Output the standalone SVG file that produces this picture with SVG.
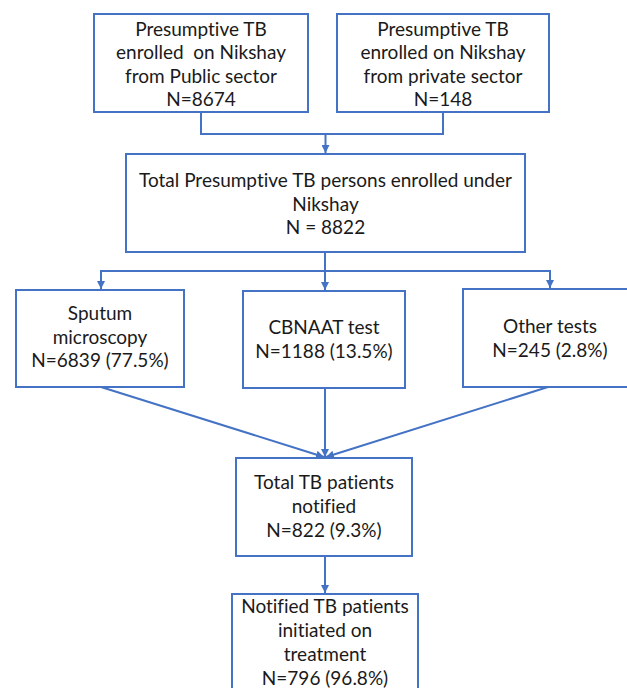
<svg xmlns="http://www.w3.org/2000/svg" width="627" height="688" viewBox="0 0 627 688">
  <style>
    .box { fill: #ffffff; stroke: #4472C4; stroke-width: 2; }
    .ln { fill: none; stroke: #4472C4; stroke-width: 2; }
    .t { font-family: Lato, "Open Sans", "Liberation Sans", sans-serif; font-size: 19px; fill: #1a1a1a; text-anchor: middle; font-variant-ligatures: none; }
  </style>
  <defs>
    <marker id="ah" viewBox="0 0 10 10" refX="10" refY="5" markerWidth="4" markerHeight="4" orient="auto" markerUnits="strokeWidth">
      <path d="M0,0 L10,5 L0,10 z" fill="#4472C4"/>
    </marker>
  </defs>
  <rect width="627" height="688" fill="#ffffff"/>
  <g id="connectors">
    <path class="ln" d="M201,112 V134 H443 V112"/>
    <path class="ln" d="M325.5,134 V153" marker-end="url(#ah)"/>
    <path class="ln" d="M325,252 V271"/>
    <path class="ln" d="M101,289 V271 H550 V289"/>
    <path class="ln" d="M101,280 V289" marker-end="url(#ah)"/>
    <path class="ln" d="M325,271 V290" marker-end="url(#ah)"/>
    <path class="ln" d="M550,280 V288" marker-end="url(#ah)"/>
    <path class="ln" d="M101,387 L324,457" marker-end="url(#ah)"/>
    <path class="ln" d="M325,388 V457" marker-end="url(#ah)"/>
    <path class="ln" d="M548,387 L326,457" marker-end="url(#ah)"/>
    <path class="ln" d="M325,556 V593" marker-end="url(#ah)"/>
  </g>
  <g id="public">
    <rect class="box" x="94" y="14" width="214" height="98"/>
    <text class="t" x="201" y="36">Presumptive TB</text>
    <text class="t" x="201" y="59" xml:space="preserve">enrolled  on Nikshay</text>
    <text class="t" x="201" y="83">from Public sector</text>
    <text class="t" x="201" y="106">N=8674</text>
  </g>
  <g id="private">
    <rect class="box" x="337" y="14" width="212" height="98"/>
    <text class="t" x="443" y="36">Presumptive TB</text>
    <text class="t" x="443" y="59">enrolled on Nikshay</text>
    <text class="t" x="443" y="83">from private sector</text>
    <text class="t" x="443" y="106">N=148</text>
  </g>
  <g id="total">
    <rect class="box" x="126" y="154" width="399" height="98"/>
    <text class="t" x="325.5" y="187">Total Presumptive TB persons enrolled under</text>
    <text class="t" x="325.5" y="211">Nikshay</text>
    <text class="t" x="325.5" y="234">N = 8822</text>
  </g>
  <g id="sputum">
    <rect class="box" x="16" y="290" width="168" height="97"/>
    <text class="t" x="100" y="320">Sputum</text>
    <text class="t" x="100" y="344">microscopy</text>
    <text class="t" x="100" y="367">N=6839 (77.5%)</text>
  </g>
  <g id="cbnaat">
    <rect class="box" x="243" y="291" width="162" height="97"/>
    <text class="t" x="324" y="334">CBNAAT test</text>
    <text class="t" x="324" y="358">N=1188 (13.5%)</text>
  </g>
  <g id="other">
    <rect class="box" x="463" y="289" width="174" height="98"/>
    <text class="t" x="550" y="333">Other tests</text>
    <text class="t" x="550" y="357">N=245 (2.8%)</text>
  </g>
  <g id="notified">
    <rect class="box" x="236" y="458" width="176" height="98"/>
    <text class="t" x="324" y="489">Total TB patients</text>
    <text class="t" x="324" y="513">notified</text>
    <text class="t" x="324" y="537">N=822 (9.3%)</text>
  </g>
  <g id="treated">
    <rect class="box" x="232" y="594" width="186" height="110"/>
    <text class="t" x="325" y="613">Notified TB patients</text>
    <text class="t" x="325" y="637">initiated on</text>
    <text class="t" x="325" y="661">treatment</text>
    <text class="t" x="325" y="685">N=796 (96.8%)</text>
  </g>
</svg>
